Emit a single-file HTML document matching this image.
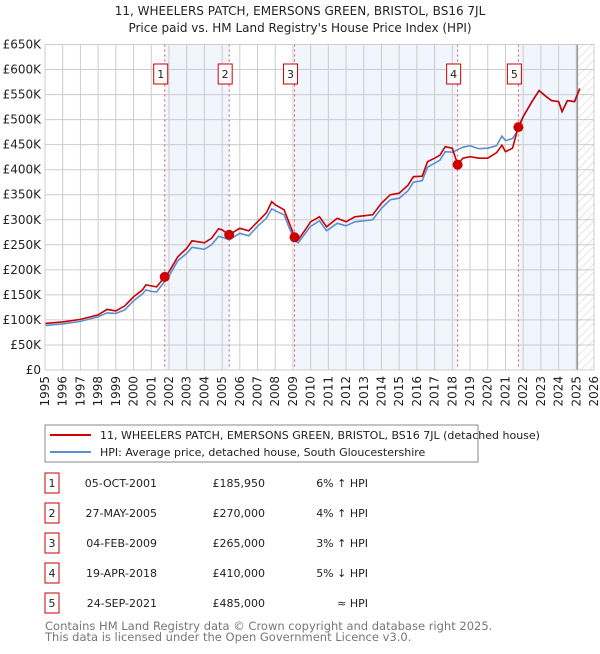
<!DOCTYPE html>
<html><head><meta charset="utf-8"><style>
body{margin:0;background:#fff;font-family:"DejaVu Sans","Liberation Sans",sans-serif;}
svg text{font-family:"DejaVu Sans","Liberation Sans",sans-serif;}
</style></head><body>
<svg id="c" width="600" height="650" xmlns="http://www.w3.org/2000/svg">
<defs><pattern id="hatch" width="6" height="6" patternUnits="userSpaceOnUse" patternTransform="rotate(45)"><line x1="0" y1="0" x2="0" y2="6" stroke="#ccc" stroke-width="1"/></pattern></defs>
<text x="300" y="15" font-size="12" text-anchor="middle" fill="#222">11, WHEELERS PATCH, EMERSONS GREEN, BRISTOL, BS16 7JL</text>
<text x="300" y="32" font-size="12" text-anchor="middle" fill="#222">Price paid vs. HM Land Registry's House Price Index (HPI)</text>
<g id="plot"></g>
<g>
<rect x="45" y="425" width="433" height="37" fill="#fff" stroke="#888"/>
<line x1="50" y1="435" x2="91" y2="435" stroke="#cc0000" stroke-width="2"/>
<text x="100" y="439" font-size="11" fill="#222">11, WHEELERS PATCH, EMERSONS GREEN, BRISTOL, BS16 7JL (detached house)</text>
<line x1="50" y1="452" x2="91" y2="452" stroke="#5b8fd0" stroke-width="2"/>
<text x="100" y="456" font-size="11" fill="#222">HPI: Average price, detached house, South Gloucestershire</text>
</g>
<g id="table" font-size="11" fill="#222"></g>
<text x="45" y="630" font-size="11.5" fill="#777">Contains HM Land Registry data © Crown copyright and database right 2025.</text>
<text x="45" y="641" font-size="11.5" fill="#777">This data is licensed under the Open Government Licence v3.0.</text>
</svg>
<script>
const years=[1995,1996,1997,1998,1998.5,1999,1999.5,2000,2000.5,2000.7,2001,2001.3,2001.76,2002,2002.5,2003,2003.3,2004,2004.4,2004.8,2005,2005.4,2006,2006.5,2007,2007.5,2007.8,2008,2008.5,2008.8,2009.1,2009.3,2009.7,2010,2010.5,2010.9,2011.5,2012,2012.5,2013,2013.5,2014,2014.5,2015,2015.5,2015.8,2016.3,2016.6,2017,2017.3,2017.6,2018,2018.3,2018.6,2019,2019.5,2020,2020.5,2020.8,2021,2021.4,2021.73,2022,2022.5,2022.9,2023.3,2023.6,2024,2024.2,2024.5,2024.9,2025.2];
const priceK=[93,96,101,110,121,118,128,146,160,170,168,166,186,196,226,243,258,254,263,282,280,270,283,278,296,314,336,330,320,293,265,260,280,296,306,286,303,296,306,308,310,333,350,353,369,386,387,416,423,429,446,443,411,423,426,423,423,434,449,436,443,486,506,536,558,546,538,536,516,538,536,562];
const hpiK=[89,92,97,106,114,113,120,138,152,160,157,156,177,188,218,233,245,241,250,267,265,260,273,268,287,303,322,318,310,283,258,254,273,287,298,278,293,288,296,298,300,323,340,343,358,375,378,405,413,419,436,435,440,445,448,442,443,448,467,458,462,480,506,536,558,546,538,536,516,538,536,562];
const saleYears=[2001.76,2005.4,2009.09,2018.3,2021.73];
const saleK=[185.95,270,265,410,485];
const saleLabels=["1","2","3","4","5"];
const saleDates=["05-OCT-2001","27-MAY-2005","04-FEB-2009","19-APR-2018","24-SEP-2021"];
const salePrices=["£185,950","£270,000","£265,000","£410,000","£485,000"];
const saleHpi=["6% ↑ HPI","4% ↑ HPI","3% ↑ HPI","5% ↓ HPI","≈ HPI"];
const yTicks=[0,50,100,150,200,250,300,350,400,450,500,550,600,650];
const xTicks=[1995,1996,1997,1998,1999,2000,2001,2002,2003,2004,2005,2006,2007,2008,2009,2010,2011,2012,2013,2014,2015,2016,2017,2018,2019,2020,2021,2022,2023,2024,2025,2026];
const X0=45,X1=594,Y0=370,Y1=44.5,yr0=1995,yr1=2026,dataEnd=2025.06;
const sx=y=>X0+(y-yr0)/(yr1-yr0)*(X1-X0);
const sy=v=>Y0-v/650*(Y0-Y1);
const NS="http://www.w3.org/2000/svg";
const plot=document.getElementById('plot');
function mk(tag,attrs,parent){const e=document.createElementNS(NS,tag);for(const k in attrs)e.setAttribute(k,attrs[k]);(parent||plot).appendChild(e);return e;}
[[0,1],[2,3],[4,null]].forEach(p=>{const a=sx(saleYears[p[0]]),b=p[1]===null?sx(dataEnd):sx(saleYears[p[1]]);
const r=mk('rect',{x:a,y:Y1,width:b-a,height:Y0-Y1,fill:'#eef3fc',opacity:0.8});

});
const h=mk('rect',{x:sx(dataEnd),y:Y1,width:X1-sx(dataEnd),height:Y0-Y1,fill:'url(#hatch)'});


yTicks.forEach(v=>{const l=mk('line',{x1:X0,x2:X1,y1:sy(v),y2:sy(v),stroke:'#ccc'});


const t=mk('text',{x:X0-4,y:sy(v)+4,'font-size':12,'text-anchor':'end',fill:'#222'});t.textContent=v===0?'£0':'£'+v+'K';

});
xTicks.forEach(y=>{const l=mk('line',{x1:sx(y),x2:sx(y),y1:Y1,y2:Y0,stroke:'#ccc'});


const t=mk('text',{x:0,y:0,'font-size':12,'text-anchor':'end',fill:'#222',transform:`translate(${sx(y)+4},${Y0+6}) rotate(-90)`});t.textContent=y;

});
const dl=mk('line',{x1:sx(dataEnd),x2:sx(dataEnd),y1:Y1,y2:Y0,stroke:'#999','stroke-width':1.5});


saleYears.forEach((y,i)=>{const l=mk('line',{x1:sx(y),x2:sx(y),y1:Y1,y2:Y0,stroke:'#e05050','stroke-dasharray':'2,3'});


const b=mk('rect',{x:sx(y)-11,y:64,width:14,height:20,fill:'#fff',stroke:'#cc0000'});


const t=mk('text',{x:sx(y)-4,y:78,'font-size':11,'text-anchor':'middle',fill:'#222'});t.textContent=saleLabels[i];

});
const pts=a=>years.map((y,i)=>sx(y).toFixed(1)+','+sy(a[i]).toFixed(1)).join(' ');
const hl=mk('polyline',{points:pts(hpiK),fill:'none',stroke:'#5b8fd0','stroke-width':1.6});


const pl=mk('polyline',{points:pts(priceK),fill:'none',stroke:'#cc0000','stroke-width':1.6});


saleYears.forEach((y,i)=>{const c=mk('circle',{cx:sx(y),cy:sy(saleK[i]),r:5,fill:'#cc0000'});

});
mk('rect',{x:X0,y:Y1,width:X1-X0,height:Y0-Y1,fill:'none',stroke:'#ccc'});
const tb=document.getElementById('table');
saleLabels.forEach((s,i)=>{const y=483+i*30;
const b=mk('rect',{x:45,y:y-10,width:14,height:20,fill:'#fff',stroke:'#cc0000'},tb);


const cells=[[52,'middle',s],[157,'end',saleDates[i]],[265,'end',salePrices[i]],[368,'end',saleHpi[i]]];
cells.forEach((c,j)=>{const t=mk('text',{x:c[0],y:y+4,'text-anchor':c[1],'font-size':11,fill:'#222'},tb);t.textContent=c[2];

});});
</script>
</body></html>
